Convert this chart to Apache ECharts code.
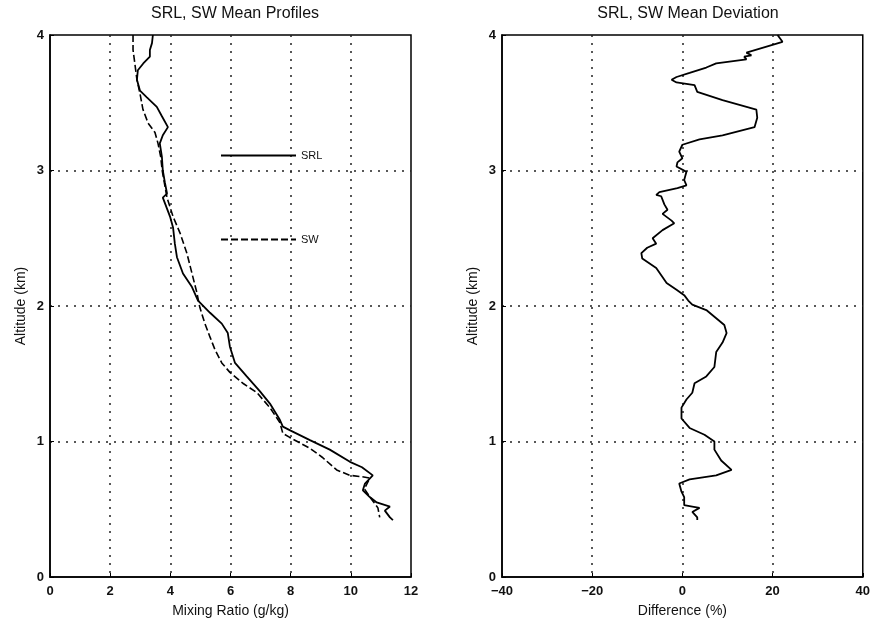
<!DOCTYPE html>
<html>
<head>
<meta charset="utf-8">
<script src="https://cdn.jsdelivr.net/npm/echarts@6/dist/echarts.min.js"></script>
<style>
html,body{margin:0;padding:0;background:#fff;}
#chart{width:873px;height:626px;}
</style>
</head>
<body>
<div id="chart"></div>
<script>
// SRL mean profile (solid), top to bottom
var srlAlt = [4.00,3.94,3.89,3.84,3.79,3.74,3.67,3.59,3.54,3.47,3.40,3.32,3.26,3.20,3.10,3.00,2.91,2.83,2.80,2.66,2.58,2.46,2.36,2.24,2.14,2.04,1.95,1.87,1.80,1.70,1.58,1.48,1.37,1.28,1.16,1.11,1.08,1.01,0.94,0.85,0.81,0.75,0.69,0.64,0.59,0.55,0.52,0.49,0.44,0.42];
var srlMix = [3.42,3.39,3.32,3.32,3.10,2.92,2.89,2.99,3.22,3.55,3.72,3.92,3.75,3.65,3.72,3.75,3.82,3.89,3.75,3.99,4.09,4.15,4.22,4.42,4.72,4.92,5.32,5.71,5.91,5.98,6.15,6.54,6.98,7.31,7.64,7.74,8.00,8.64,9.30,9.97,10.37,10.73,10.47,10.40,10.63,10.86,11.30,11.13,11.30,11.40];

// SW mean profile (dashed)
var swAlt = [4.00,3.89,3.79,3.67,3.57,3.45,3.35,3.28,3.20,3.10,3.00,2.91,2.80,2.66,2.54,2.39,2.24,2.10,1.99,1.87,1.77,1.68,1.58,1.51,1.43,1.36,1.25,1.14,1.06,1.03,0.95,0.88,0.79,0.75,0.74,0.73,0.65,0.57,0.51,0.44];
var swMix = [2.76,2.76,2.82,2.89,2.99,3.09,3.26,3.49,3.59,3.68,3.73,3.80,3.89,4.09,4.32,4.55,4.72,4.88,4.98,5.15,5.32,5.48,5.71,5.98,6.41,6.88,7.31,7.64,7.74,7.97,8.64,9.07,9.53,9.97,10.37,10.63,10.45,10.70,10.90,10.96];

// mean deviation (%), right panel
var difAlt = [4.00,3.95,3.87,3.85,3.84,3.82,3.79,3.76,3.72,3.69,3.67,3.65,3.63,3.58,3.52,3.45,3.39,3.32,3.26,3.23,3.19,3.14,3.09,3.06,3.03,2.99,2.93,2.89,2.87,2.84,2.82,2.81,2.75,2.71,2.68,2.63,2.61,2.56,2.50,2.46,2.43,2.39,2.35,2.28,2.17,2.12,2.08,2.04,2.01,1.97,1.91,1.86,1.80,1.73,1.66,1.55,1.48,1.43,1.36,1.31,1.25,1.17,1.10,1.05,1.00,0.94,0.86,0.79,0.75,0.72,0.69,0.63,0.59,0.53,0.52,0.51,0.48,0.44,0.42];
var difVal = [21.1,22.2,14.2,15.3,13.7,14.2,7.5,5.3,1.6,-1.3,-2.4,-1.3,2.7,3.3,8.9,16.4,16.6,16.0,8.9,3.8,0.0,-0.7,0.0,-1.1,-1.3,0.9,0.4,0.9,-1.1,-5.1,-5.8,-4.7,-4.0,-3.3,-4.4,-2.4,-1.8,-4.4,-6.6,-5.8,-7.8,-9.1,-8.9,-5.8,-3.5,-1.3,0.4,1.3,2.2,5.3,7.5,9.3,9.8,8.9,7.5,7.1,5.3,2.7,2.2,0.9,-0.2,-0.2,1.6,4.9,7.1,7.1,8.6,10.9,7.5,1.6,-0.7,-0.2,0.4,0.4,2.2,3.8,2.2,3.3,3.3];

var mixTicks = [0,2,4,6,8,10,12];
var difTicks = [-40,-20,0,20,40];
var altTicks = [0,1,2,3,4];

function pairs(xs, ys){
	var out = [];
	for(var i=0;i<xs.length;i++){ out.push([xs[i], ys[i]]); }
	return out;
}

var font = 'Liberation Sans, Arial, sans-serif';
var dotted = {color:'#222', width:1.5, type:[2,6]};

function xAx(idx, min, max, interval, name, fmt){
	return {
		type:'value', gridIndex:idx, min:min, max:max, interval:interval,
		name:name, nameLocation:'middle', nameGap:27,
		nameTextStyle:{fontFamily:font, fontSize:14, color:'#111'},
		axisLine:{onZero:false, lineStyle:{color:'#000', width:1.5}},
		axisTick:{inside:true, length:4, lineStyle:{color:'#000'}},
		axisLabel:{fontFamily:font, fontSize:13, fontWeight:'bold', color:'#111', margin:8, formatter:fmt},
		splitLine:{show:true, showMinLine:false, showMaxLine:false, lineStyle:dotted}
	};
}
function yAx(idx){
	return {
		type:'value', gridIndex:idx, min:altTicks[0], max:altTicks[altTicks.length-1], interval:1,
		name:'Altitude (km)', nameLocation:'middle', nameGap:22,
		nameTextStyle:{fontFamily:font, fontSize:14, color:'#111'},
		axisLine:{onZero:false, lineStyle:{color:'#000', width:1.5}},
		axisTick:{inside:true, length:4, lineStyle:{color:'#000'}},
		axisLabel:{fontFamily:font, fontSize:13, fontWeight:'bold', color:'#111', margin:6},
		splitLine:{show:true, showMinLine:false, showMaxLine:false, lineStyle:dotted}
	};
}

var myChart = echarts.init(document.getElementById('chart'));
var option = {
	backgroundColor:'#fff',
	animation:false,
	title:[
		{text:'SRL, SW Mean Profiles', left:230, top:1, textAlign:'center',
		 textStyle:{fontFamily:font, fontSize:16, fontWeight:'normal', color:'#111'}},
		{text:'SRL, SW Mean Deviation', left:683, top:1, textAlign:'center',
		 textStyle:{fontFamily:font, fontSize:16, fontWeight:'normal', color:'#111'}}
	],
	legend:{
		orient:'vertical', left:215, top:145, itemWidth:75, itemHeight:10, itemGap:73,
		textStyle:{fontFamily:font, fontSize:11, color:'#111'},
		itemStyle:{color:'transparent', borderWidth:0},
		data:['SRL','SW']
	},
	grid:[
		{left:50, right:462, top:35, bottom:49, show:true, borderColor:'#000', borderWidth:1.5},
		{left:502, right:10, top:35, bottom:49, show:true, borderColor:'#000', borderWidth:1.5}
	],
	xAxis:[
		xAx(0, mixTicks[0], mixTicks[mixTicks.length-1], 2, 'Mixing Ratio (g/kg)'),
		xAx(1, difTicks[0], difTicks[difTicks.length-1], 20, 'Difference (%)', function(v){ return String(v).replace('-', '\u2212'); })
	],
	yAxis:[ yAx(0), yAx(1) ],
	series:[
		{name:'SRL', type:'line', xAxisIndex:0, yAxisIndex:0, symbol:'none', silent:true,
		 lineStyle:{color:'#000', width:1.8}, data:pairs(srlMix, srlAlt)},
		{name:'SW', type:'line', xAxisIndex:0, yAxisIndex:0, symbol:'none', silent:true,
		 lineStyle:{color:'#000', width:1.6, type:[7,3]}, data:pairs(swMix, swAlt)},
		{name:'diff', type:'line', xAxisIndex:1, yAxisIndex:1, symbol:'none', silent:true,
		 lineStyle:{color:'#000', width:1.8}, data:pairs(difVal, difAlt)}
	]
};
myChart.setOption(option);
</script>
</body>
</html>
